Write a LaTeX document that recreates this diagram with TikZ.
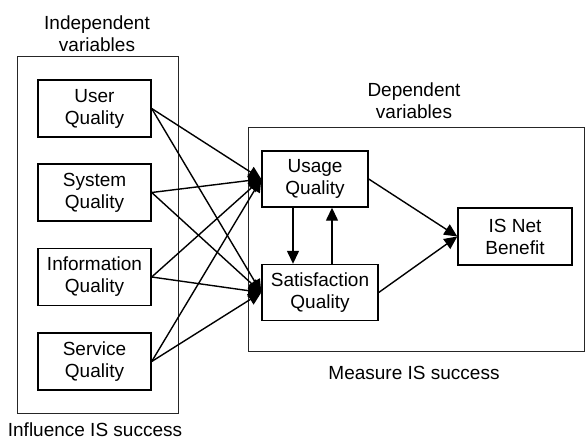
\documentclass[tikz,border=0pt]{standalone}
\usepackage{fontspec}
\setmainfont{Liberation Sans}
\usetikzlibrary{arrows.meta}
\begin{document}
\begin{tikzpicture}[x=1pt,y=-1pt,
  font=\fontsize{19}{22}\selectfont,
  group/.style={draw=black!85,line width=0.9pt},
  varbox/.style={draw,line width=1.4pt,align=center,inner sep=0pt,
    minimum width=113pt,minimum height=57pt},
  label/.style={align=center,inner sep=0pt},
  link/.style={line width=1.4pt,-{Triangle[length=13pt,width=12pt]}}]
\useasboundingbox (0,0) rectangle (587,442);

% group frames
\draw[group] (17,56) rectangle (178,413);
\draw[group] (248,127) rectangle (584,351);

% group captions
\node[label] (indep) at (97,34) {Independent\\variables};
\node[label] (influence) at (95,430) {Influence IS success};
\node[label] (dep) at (414,101) {Dependent\\variables};
\node[label] (measure) at (414,373) {Measure IS success};

% independent variables
\node[varbox] (user) at (94.5,108.5) {User\\Quality};
\node[varbox] (system) at (94.5,192.5) {System\\Quality};
\node[varbox] (info) at (94.5,277) {Information\\Quality};
\node[varbox] (service) at (94.5,361.5) {Service\\Quality};

% dependent variables
\node[varbox,minimum width=106pt,minimum height=56pt] (usage) at (315,179) {Usage\\Quality};
\node[varbox,minimum width=116pt,minimum height=56pt] (sat) at (320,292.5) {Satisfaction\\Quality};
\node[varbox,minimum width=114pt,minimum height=57pt] (net) at (515,236.5) {IS Net\\Benefit};

% influences on usage and satisfaction
\foreach \src in {user,system,info,service}{
  \draw[link] (\src.east) -- (usage.west);
  \draw[link] (\src.east) -- (sat.west);
}

% mutual influence between usage and satisfaction
\draw[link] ([xshift=-22pt]usage.south) -- ([xshift=-27pt]sat.north);
\draw[link] ([xshift=12pt]sat.north) -- ([xshift=17pt]usage.south);

% effects on net benefit
\draw[link] (usage.east) -- (net.west);
\draw[link] (sat.east) -- (net.west);
\end{tikzpicture}
\end{document}
